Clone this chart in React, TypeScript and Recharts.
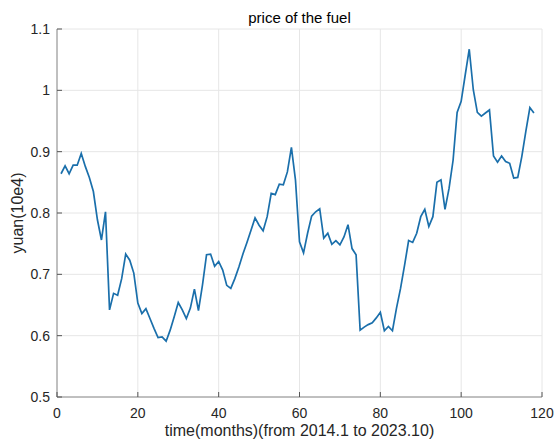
import React from 'react';
import { LineChart, Line, XAxis, YAxis, CartesianGrid } from 'recharts';

const months: number[] = Array.from({ length: 118 }, (_, i) => i + 1);

const prices: number[] = [
  0.864, 0.877, 0.864, 0.878, 0.878, 0.897, 0.876, 0.858, 0.835, 0.789,
  0.756, 0.802, 0.642, 0.669, 0.666, 0.693, 0.733, 0.723, 0.702, 0.653,
  0.636, 0.644, 0.628, 0.612, 0.597, 0.598, 0.591, 0.609, 0.631, 0.654,
  0.642, 0.628, 0.645, 0.676, 0.641, 0.683, 0.732, 0.733, 0.713, 0.721,
  0.707, 0.682, 0.677, 0.693, 0.712, 0.733, 0.752, 0.772, 0.792, 0.780,
  0.771, 0.794, 0.832, 0.830, 0.847, 0.846, 0.867, 0.907, 0.854, 0.753,
  0.735, 0.767, 0.795, 0.802, 0.807, 0.759, 0.767, 0.749, 0.755, 0.748,
  0.761, 0.781, 0.742, 0.732, 0.609, 0.614, 0.618, 0.621, 0.629, 0.638,
  0.608, 0.615, 0.608, 0.645, 0.677, 0.715, 0.755, 0.752, 0.767, 0.794,
  0.806, 0.778, 0.794, 0.850, 0.854, 0.806, 0.840, 0.886, 0.964, 0.982,
  1.025, 1.067, 1.001, 0.964, 0.958, 0.963, 0.968, 0.893, 0.883, 0.893,
  0.884, 0.881, 0.857, 0.858, 0.892, 0.933, 0.972, 0.963,
];

const xTicks: number[] = [0, 20, 40, 60, 80, 100, 120];
const yTicks: number[] = [0.5, 0.6, 0.7, 0.8, 0.9, 1.0, 1.1];

const title = 'price of the fuel';
const xLabel = 'time(months)(from 2014.1 to 2023.10)';
const yLabel = 'yuan(10e4)';

const data = months.map((m, i) => ({ month: m, price: prices[i] }));

const INK = '#262626';
const AXIS = '#8c8c8c';
const TICKMARK = '#555555';
const FONT = '"Liberation Sans", Arial, Helvetica, sans-serif';
const fmtY = (v: number) => String(Number(v.toFixed(1)));

const BottomTick = (props: any) => {
  const { x, y, payload } = props;
  return (
    <g>
      <line x1={x} x2={x} y1={y} y2={y - 5} stroke={TICKMARK} strokeWidth={1} />
      <text x={x} y={y + 21} textAnchor="middle" fontSize={14} fill={INK} fontFamily={FONT}>
        {payload.value}
      </text>
    </g>
  );
};

const TopTick = (props: any) => {
  const { x, y } = props;
  return <line x1={x} x2={x} y1={y} y2={y + 5} stroke={TICKMARK} strokeWidth={1} />;
};

const LeftTick = (props: any) => {
  const { x, y, payload } = props;
  return (
    <g>
      <line x1={x} x2={x + 5} y1={y} y2={y} stroke={TICKMARK} strokeWidth={1} />
      <text x={x - 7} y={y + 5} textAnchor="end" fontSize={14} fill={INK} fontFamily={FONT}>
        {fmtY(payload.value)}
      </text>
    </g>
  );
};

const RightTick = (props: any) => {
  const { x, y } = props;
  return <line x1={x} x2={x - 5} y1={y} y2={y} stroke={TICKMARK} strokeWidth={1} />;
};

export default function App() {
  return (
    <div style={{ position: 'fixed', left: 0, top: 0, width: 556, height: 442, background: '#fff', fontFamily: FONT }}>
      <LineChart
        width={556}
        height={442}
        data={data}
        margin={{ top: 29, right: 14, bottom: 0, left: 0 }}
      >
        <CartesianGrid stroke="#e6e6e6" strokeWidth={1} xAxisId="b" yAxisId="l" />
        <XAxis
          xAxisId="b"
          dataKey="month"
          type="number"
          domain={[0, 120]}
          ticks={xTicks}
          height={45}
          tickSize={0}
          tickMargin={0}
          tickLine={false}
          axisLine={{ stroke: AXIS }}
          tick={<BottomTick />}
          interval={0}
        />
        <XAxis
          xAxisId="t"
          orientation="top"
          dataKey="month"
          type="number"
          domain={[0, 120]}
          ticks={xTicks}
          height={0}
          tickSize={0}
          tickMargin={0}
          tickLine={false}
          axisLine={{ stroke: AXIS }}
          tick={<TopTick />}
          interval={0}
        />
        <YAxis
          yAxisId="l"
          type="number"
          domain={[0.5, 1.1]}
          ticks={yTicks}
          width={57}
          tickSize={0}
          tickMargin={0}
          tickLine={false}
          axisLine={{ stroke: AXIS }}
          tick={<LeftTick />}
          interval={0}
        />
        <YAxis
          yAxisId="r"
          orientation="right"
          type="number"
          domain={[0.5, 1.1]}
          ticks={yTicks}
          width={0}
          tickSize={0}
          tickMargin={0}
          tickLine={false}
          axisLine={{ stroke: AXIS }}
          tick={<RightTick />}
          interval={0}
        />
        <Line
          xAxisId="b"
          yAxisId="l"
          type="linear"
          dataKey="price"
          stroke="#1a6fab"
          strokeWidth={1.7}
          dot={false}
          isAnimationActive={false}
        />
      </LineChart>
      <div style={{ position: 'absolute', left: 57, width: 485, top: 9, textAlign: 'center', fontSize: 15, color: '#000', lineHeight: '18px' }}>
        {title}
      </div>
      <div style={{ position: 'absolute', left: 57, width: 485, top: 422, textAlign: 'center', fontSize: 16, color: INK, lineHeight: '18px' }}>
        {xLabel}
      </div>
      <div style={{ position: 'absolute', left: 18, top: 213, width: 0, height: 0 }}>
        <div style={{ position: 'absolute', left: -100, top: -9, width: 200, textAlign: 'center', fontSize: 16, color: INK, lineHeight: '18px', transform: 'rotate(-90deg)', whiteSpace: 'nowrap' }}>
          {yLabel}
        </div>
      </div>
    </div>
  );
}
